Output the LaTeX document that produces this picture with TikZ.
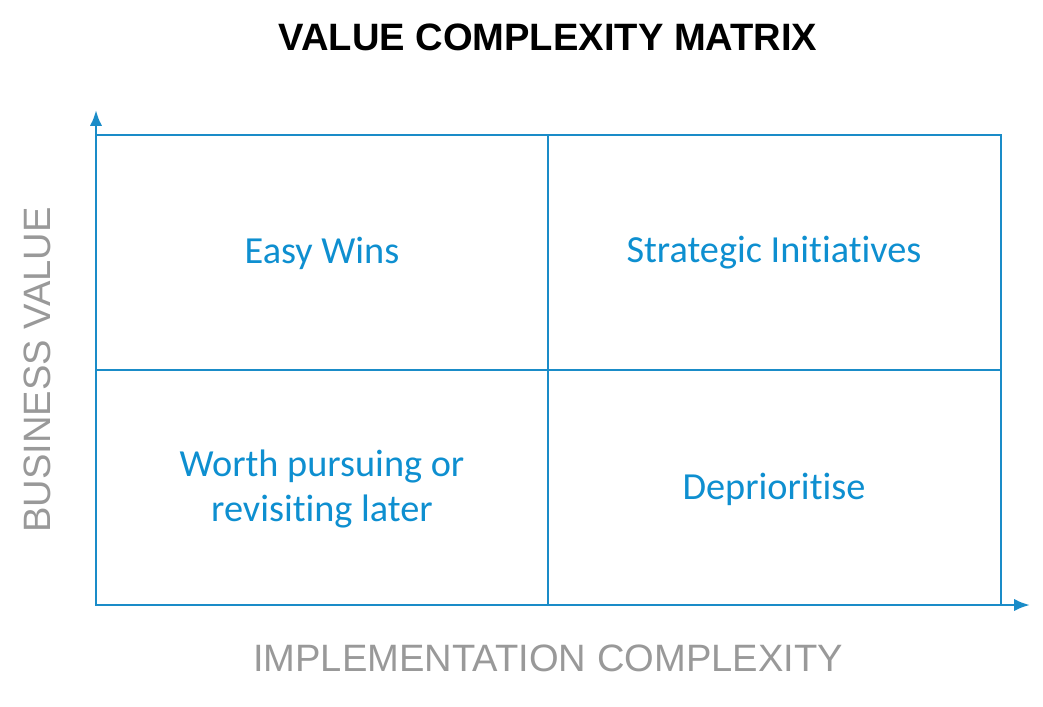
\documentclass[tikz,border=0pt]{standalone}
\usepackage{fontspec}
\setmainfont{Liberation Sans}
\newfontfamily\quadfont[Ligatures={NoCommon,NoRequired,NoContextual}]{Carlito}
\definecolor{lblue}{HTML}{1A8CC8}
\definecolor{tblue}{HTML}{0E8FD0}
\definecolor{agray}{HTML}{999999}
\begin{document}
\begin{tikzpicture}[x=0.02cm,y=-0.02cm,
  grid/.style={draw=lblue,line width=1pt},
  axis/.style={draw=lblue,line width=1.6pt,-{Latex[length=9pt,width=7pt]}},
  quad/.style={text=tblue,font=\quadfont\fontsize{21.8}{25.6}\selectfont,align=center},
  alab/.style={text=agray,font=\fontsize{21.7}{26}\selectfont}]
\usetikzlibrary{arrows.meta}
\useasboundingbox (0,0) rectangle (1043,706);
\node[font=\bfseries\fontsize{21.7}{25}\selectfont] (title) at (548,37) {VALUE COMPLEXITY MATRIX};
\coordinate (o) at (96,605);
\coordinate (ytop) at (96,110);
\coordinate (xend) at (1030,605);
\draw[grid] (96,135) rectangle (1001,605);
\draw[grid] (548,135) -- (548,605);
\draw[grid] (96,370) -- (1001,370);
\draw[axis] (o) -- (ytop);
\draw[axis] (o) -- (xend);
\node[quad] (q1) at (322,253) {Easy Wins};
\node[quad] (q2) at (774,253) {Strategic Initiatives};
\node[quad] (q3) at (322,489) {Worth pursuing or\\revisiting later};
\node[quad] (q4) at (774,489) {Deprioritise};
\node[alab] (xl) at (548,658) {IMPLEMENTATION COMPLEXITY};
\node[alab,rotate=90] (yl) at (37,370) {BUSINESS VALUE};
\end{tikzpicture}
\end{document}
